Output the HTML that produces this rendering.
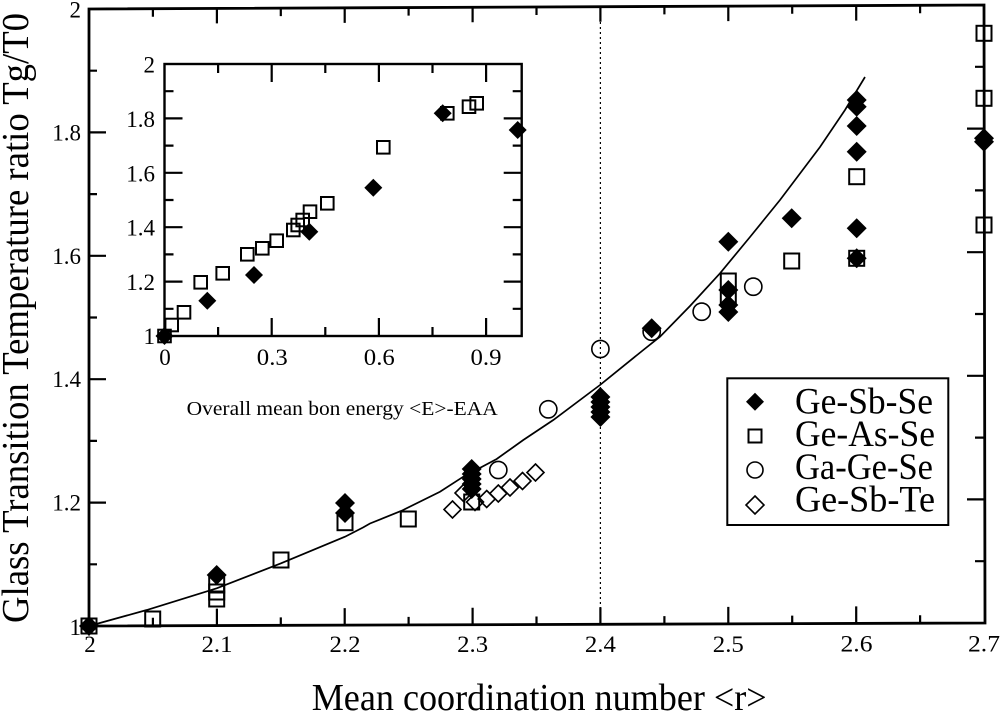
<!DOCTYPE html>
<html><head><meta charset="utf-8"><style>
html,body{margin:0;padding:0;background:#fff;}
svg{display:block;}
text{font-family:"Liberation Serif","Times New Roman",serif;fill:#000;}
</style></head><body>
<svg width="1000" height="712" viewBox="0 0 1000 712" xmlns="http://www.w3.org/2000/svg">
<defs>
<path id="fd" d="M0 -10 L10 0 L0 10 L-10 0Z" fill="#000"/>
<rect id="sq" x="-7.5" y="-7.5" width="15" height="15" fill="none" stroke="#000" stroke-width="2"/>
<circle id="ci" r="8.6" fill="none" stroke="#000" stroke-width="1.6"/>
<path id="od" d="M0 -8.5 L8.5 0 L0 8.5 L-8.5 0Z" fill="none" stroke="#000" stroke-width="1.6"/>
<path id="ifd" d="M0 -9 L9 0 L0 9 L-9 0Z" fill="#000"/>
<rect id="isq" x="-6.3" y="-6.3" width="12.6" height="12.6" fill="none" stroke="#000" stroke-width="2"/>
</defs>
<rect width="1000" height="712" fill="#fff"/>

<!-- dotted vertical line -->
<line x1="600.4" y1="7" x2="600.4" y2="624" stroke="#000" stroke-width="1.2" stroke-dasharray="2 3"/>

<!-- main frame -->
<path d="M89 9 L984 5 L985 623 L89 626 Z" fill="none" stroke="#000" stroke-width="2.8"/>

<!-- main ticks -->
<path fill="none" stroke="#000" stroke-width="2.2" d="
M152.9 625.8v-8 M216.9 625.6v-17 M280.8 625.4v-8 M344.7 625.1v-17 M408.6 624.9v-8 M472.6 624.7v-17 M536.5 624.5v-8 M600.4 624.3v-17 M664.4 624.1v-8 M728.3 623.9v-17 M792.2 623.6v-8 M856.2 623.4v-17 M920.1 623.2v-8
M152.9 8.7v8 M216.9 8.4v15 M280.8 8.1v8 M344.7 7.9v15 M408.6 7.6v8 M472.6 7.3v15 M536.5 7v8 M600.4 6.7v15 M664.4 6.4v8 M728.3 6.1v15 M792.2 5.8v8 M856.2 5.6v15 M920.1 5.3v8
M89 564.3h8 M89 502.6h17 M89 440.9h8 M89 379.2h17 M89 317.5h8 M89 255.8h17 M89 194.1h8 M89 132.4h17 M89 70.7h8
M984 561.2h-9 M984 499.4h-17 M984 437.6h-9 M984 375.8h-17 M984 314h-9 M984 252.2h-17 M984 190.4h-9 M984 128.6h-17 M984 66.8h-9
"/>

<!-- main tick labels -->
<g font-size="23" text-anchor="end">
<text x="81" y="635">1</text>
<text x="81" y="510.6">1.2</text>
<text x="81" y="387.2">1.4</text>
<text x="81" y="263.8">1.6</text>
<text x="81" y="140.6">1.8</text>
<text x="81" y="17.5">2</text>
</g>
<g font-size="23" text-anchor="middle">
<text x="90" y="652">2</text>
<text x="217" y="652" textLength="31" lengthAdjust="spacingAndGlyphs">2.1</text>
<text x="345" y="652" textLength="31" lengthAdjust="spacingAndGlyphs">2.2</text>
<text x="472.6" y="652" textLength="31" lengthAdjust="spacingAndGlyphs">2.3</text>
<text x="600.4" y="652" textLength="31" lengthAdjust="spacingAndGlyphs">2.4</text>
<text x="728.3" y="652" textLength="31" lengthAdjust="spacingAndGlyphs">2.5</text>
<text x="856.5" y="651.5" textLength="32" lengthAdjust="spacingAndGlyphs">2.6</text>
<text x="984" y="651.5" textLength="32" lengthAdjust="spacingAndGlyphs">2.7</text>
</g>

<!-- axis titles -->
<text x="311.7" y="710" font-size="38" textLength="455" lengthAdjust="spacingAndGlyphs">Mean coordination number &lt;r&gt;</text>
<text transform="translate(28,318) rotate(-90)" x="0" y="0" font-size="38" text-anchor="middle" textLength="610" lengthAdjust="spacingAndGlyphs">Glass Transition Temperature ratio Tg/T0</text>

<!-- fit curve -->
<polyline fill="none" stroke="#000" stroke-width="1.7" points="89,626 146.7,610 216.7,588.3 281,563.3 345,536.7 363,527.5 370,523.5 401.7,510.7 440,491.7 463.3,476.7 496.7,459 523.3,440 553.3,420 600,385 643.3,350 660,336.7 690,306 720,273.3 750,237 780,200 820,147 845,110 865,77"/>

<!-- main data: squares -->
<g>
<use href="#sq" x="89" y="626"/>
<use href="#sq" x="152.7" y="619"/>
<use href="#sq" x="216.7" y="585"/>
<use href="#sq" x="216.7" y="592"/>
<use href="#sq" x="216.7" y="599"/>
<use href="#sq" x="281" y="560"/>
<use href="#sq" x="345" y="522.7"/>
<use href="#sq" x="408.3" y="519"/>
<use href="#sq" x="471.7" y="502"/>
<use href="#sq" x="728.3" y="281"/>
<use href="#sq" x="728.3" y="297"/>
<use href="#sq" x="791.7" y="261"/>
<use href="#sq" x="856.7" y="176.7"/>
<use href="#sq" x="856.7" y="258.3"/>
<use href="#sq" x="984" y="33.3"/>
<use href="#sq" x="984" y="98.3"/>
<use href="#sq" x="984" y="225"/>
</g>
<!-- open diamonds -->
<g>
<use href="#od" x="452.5" y="509.5"/>
<use href="#od" x="463.5" y="493"/>
<use href="#od" x="475" y="502"/>
<use href="#od" x="486.7" y="499"/>
<use href="#od" x="498.3" y="493.5"/>
<use href="#od" x="510" y="487.5"/>
<use href="#od" x="522.5" y="481"/>
<use href="#od" x="535.5" y="472.5"/>
</g>
<!-- filled diamonds -->
<g>
<use href="#fd" x="89" y="626"/>
<use href="#fd" x="216.7" y="575"/>
<use href="#fd" x="345" y="503"/>
<use href="#fd" x="345" y="513"/>
<use href="#fd" x="471.7" y="469"/>
<use href="#fd" x="471.7" y="474"/>
<use href="#fd" x="471.7" y="479"/>
<use href="#fd" x="471.7" y="484"/>
<use href="#fd" x="471.7" y="489"/>
<use href="#fd" x="600.4" y="397"/>
<use href="#fd" x="600.4" y="402"/>
<use href="#fd" x="600.4" y="407"/>
<use href="#fd" x="600.4" y="412"/>
<use href="#fd" x="600.4" y="417"/>
<use href="#fd" x="651.7" y="328.3"/>
<use href="#fd" x="728.3" y="241.7"/>
<use href="#fd" x="728.3" y="290"/>
<use href="#fd" x="728.3" y="305"/>
<use href="#fd" x="728.3" y="312"/>
<use href="#fd" x="791.7" y="218.3"/>
<use href="#fd" x="856.7" y="100"/>
<use href="#fd" x="856.7" y="106.7"/>
<use href="#fd" x="856.7" y="126"/>
<use href="#fd" x="856.7" y="151.7"/>
<use href="#fd" x="856.7" y="228.3"/>
<use href="#fd" x="856.7" y="258.3"/>
<use href="#fd" x="984" y="138.3"/>
<use href="#fd" x="984" y="141.7"/>
</g>
<!-- circles -->
<g>
<use href="#ci" x="498.3" y="470"/>
<use href="#ci" x="548.3" y="409.3"/>
<use href="#ci" x="600.4" y="349"/>
<use href="#ci" x="651.7" y="331.7"/>
<use href="#ci" x="701.7" y="311.7"/>
<use href="#ci" x="753.3" y="286.7"/>
</g>

<!-- legend -->
<rect x="727.3" y="378.3" width="221" height="146.7" fill="#fff" stroke="#000" stroke-width="2"/>
<use href="#ifd" x="755" y="401.7"/>
<rect x="748.5" y="429.5" width="13" height="13" fill="none" stroke="#000" stroke-width="2"/>
<circle cx="755" cy="470" r="8" fill="none" stroke="#000" stroke-width="1.6"/>
<path d="M755 496 L764 505 L755 514 L746 505Z" fill="none" stroke="#000" stroke-width="1.6"/>
<g font-size="37">
<text x="795" y="413.5" textLength="138" lengthAdjust="spacingAndGlyphs">Ge-Sb-Se</text>
<text x="795" y="446" textLength="140" lengthAdjust="spacingAndGlyphs">Ge-As-Se</text>
<text x="795" y="479" textLength="138" lengthAdjust="spacingAndGlyphs">Ga-Ge-Se</text>
<text x="795" y="511.5" textLength="140" lengthAdjust="spacingAndGlyphs">Ge-Sb-Te</text>
</g>

<!-- inset -->
<rect x="164.5" y="64" width="357.2" height="272" fill="#fff" stroke="#000" stroke-width="2.4"/>
<path fill="none" stroke="#000" stroke-width="2.2" d="
M218.1 336v-9 M271.7 336v-18 M325.3 336v-9 M378.9 336v-18 M432.5 336v-9 M486.1 336v-18
M218.1 64v9 M271.7 64v18 M325.3 64v9 M378.9 64v18 M432.5 64v9 M486.1 64v18
M164.5 308.8h9 M164.5 281.6h18 M164.5 254.4h9 M164.5 227.2h18 M164.5 200h9 M164.5 172.8h18 M164.5 145.6h9 M164.5 118.4h18 M164.5 91.2h9
M521.7 308.8h-9 M521.7 281.6h-18 M521.7 254.4h-9 M521.7 227.2h-18 M521.7 200h-9 M521.7 172.8h-18 M521.7 145.6h-9 M521.7 118.4h-18 M521.7 91.2h-9
"/>
<g font-size="23" text-anchor="end">
<text x="155" y="344">1</text>
<text x="155" y="290">1.2</text>
<text x="155" y="235.7">1.4</text>
<text x="155" y="181.3">1.6</text>
<text x="155" y="127">1.8</text>
<text x="155" y="72.5">2</text>
</g>
<g font-size="23" text-anchor="middle">
<text x="165" y="365">0</text>
<text x="272.3" y="365" textLength="31" lengthAdjust="spacingAndGlyphs">0.3</text>
<text x="379.3" y="365" textLength="31" lengthAdjust="spacingAndGlyphs">0.6</text>
<text x="486" y="365" textLength="31" lengthAdjust="spacingAndGlyphs">0.9</text>
</g>
<text x="186.7" y="415" font-size="20" textLength="311" lengthAdjust="spacingAndGlyphs">Overall mean bon energy &lt;E&gt;-EAA</text>

<g>
<use href="#isq" x="164.5" y="336"/>
<use href="#isq" x="171.7" y="325"/>
<use href="#isq" x="184" y="312.3"/>
<use href="#isq" x="200.7" y="282.3"/>
<use href="#isq" x="222.7" y="273.3"/>
<use href="#isq" x="247.3" y="254.3"/>
<use href="#isq" x="262.3" y="248.3"/>
<use href="#isq" x="276.7" y="240.7"/>
<use href="#isq" x="293.3" y="230"/>
<use href="#isq" x="297.7" y="225"/>
<use href="#isq" x="302.7" y="220"/>
<use href="#isq" x="310" y="211.7"/>
<use href="#isq" x="327.3" y="203.3"/>
<use href="#isq" x="383.3" y="147.3"/>
<use href="#isq" x="447.3" y="113.3"/>
<use href="#isq" x="469" y="106.7"/>
<use href="#isq" x="476.7" y="103.3"/>
</g>
<g>
<use href="#ifd" x="164.5" y="336"/>
<use href="#ifd" x="207.3" y="300.7"/>
<use href="#ifd" x="254" y="275"/>
<use href="#ifd" x="309.3" y="231.7"/>
<use href="#ifd" x="373.3" y="187.7"/>
<use href="#ifd" x="442.7" y="113.3"/>
<use href="#ifd" x="517.7" y="130"/>
</g>
</svg>
</body></html>
